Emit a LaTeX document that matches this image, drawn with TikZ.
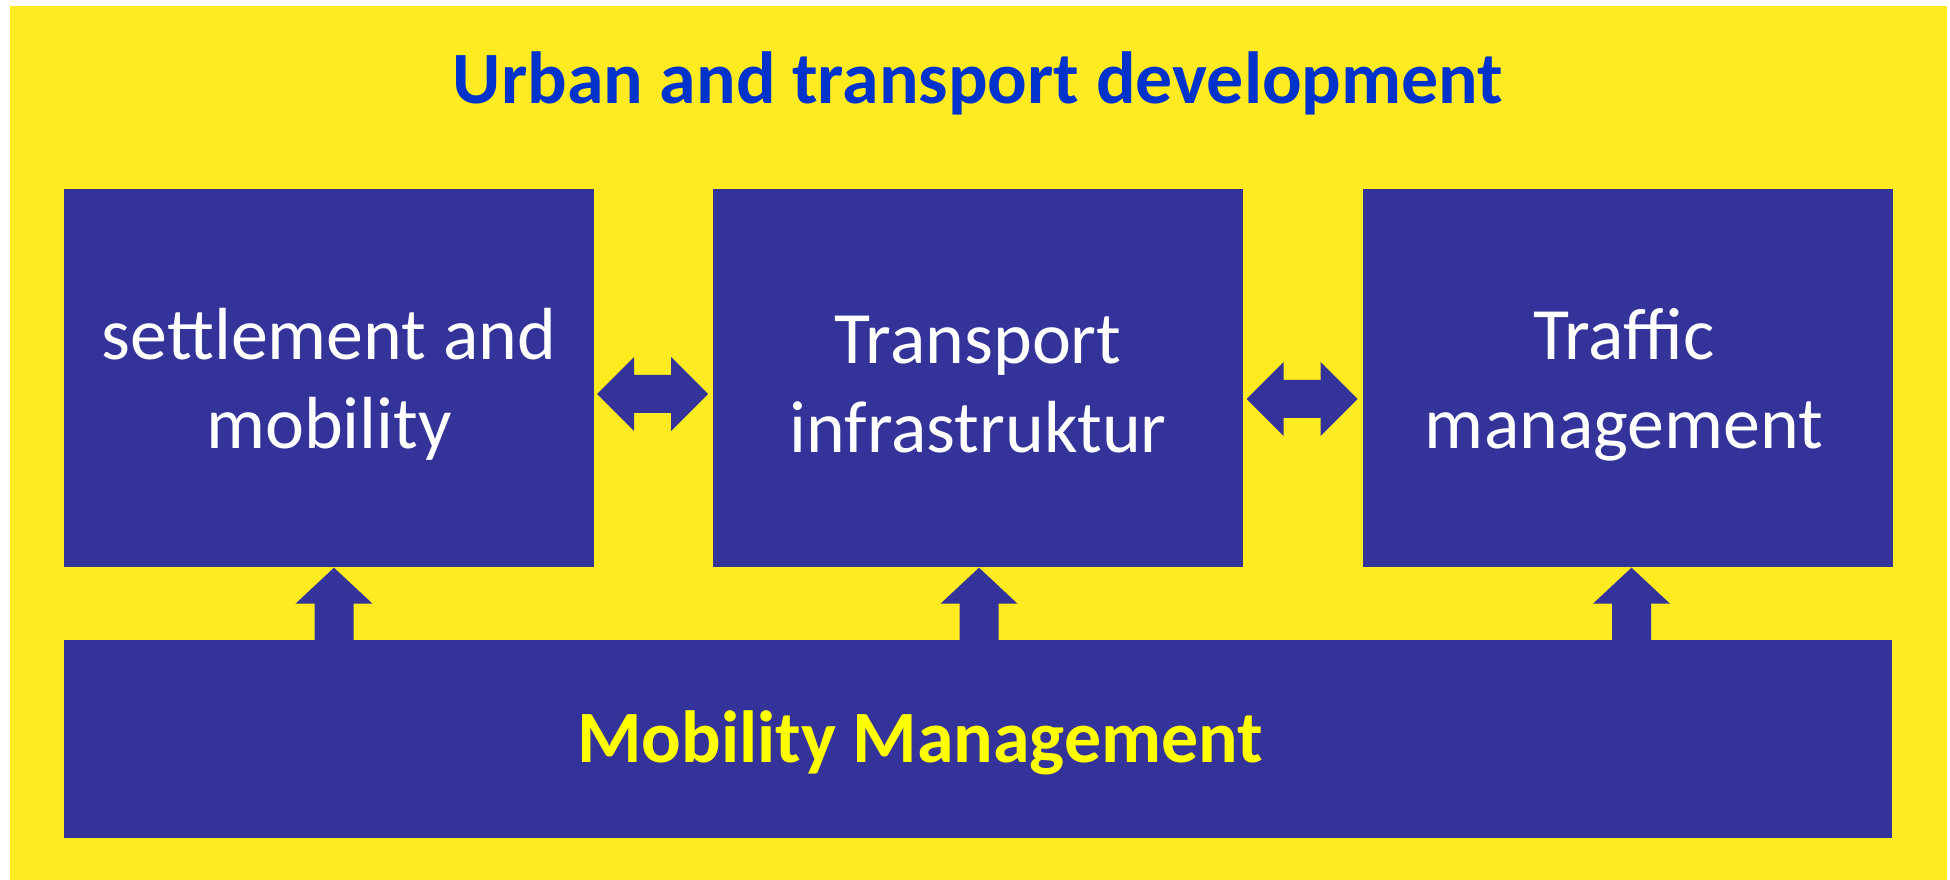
\documentclass[tikz,border=0pt]{standalone}
\usepackage{fontspec}
\setmainfont{Carlito}
\newlength{\du}
\setlength{\du}{0.01cm}
\definecolor{boxblue}{rgb}{0.200000, 0.200000, 0.600000}
\definecolor{headblue}{rgb}{0.000000, 0.200000, 0.800000}
\definecolor{backyellow}{rgb}{1.000000, 0.921569, 0.125490}
\definecolor{textyellow}{rgb}{1.000000, 1.000000, 0.000000}
\tikzset{
  boxnode/.style={rectangle, fill=boxblue, inner sep=0pt, minimum width=530\du,
    minimum height=378\du},
  boxtext/.style={inner sep=0pt, align=center, text=white,
    font={\fontsize{21}{25.3}\selectfont}},
  headtext/.style={anchor=base, inner sep=0pt, font={\fontsize{21}{25.3}\selectfont\bfseries}},
  blockarrow/.style={fill=boxblue}
}

\begin{document}
\begin{tikzpicture}
\pgftransformxscale{1.000000}
\pgftransformyscale{-1.000000}
\useasboundingbox (0\du,0\du) rectangle (1950\du,880\du);
\definecolor{dialinecolor}{rgb}{1.000000, 0.921569, 0.125490}
\pgfsetfillcolor{dialinecolor}
\fill (10\du,6\du)--(10\du,880\du)--(1947\du,880\du)--(1947\du,6\du)--cycle;
% setfont title
\node[headtext, text=headblue] (title) at (978\du,104\du){Urban and transport development};
\node[boxnode] (set) at (329\du,378\du){};
\node[boxtext] (settext) at (329\du,384.5\du){settlement and\\mobility};
\node[boxnode] (infra) at (978\du,378\du){};
\node[boxtext] (infratext) at (978\du,384.5\du){Transport\\infrastruktur};
\node[boxnode] (traffic) at (1627.5\du,378\du){};
\node[boxtext] (traffictext) at (1624\du,384.5\du){Traffic\\management};
\node[boxnode, minimum width=1828\du, minimum height=198\du] (mob) at (978\du,739\du){};
% setfont bottom
\node[headtext, text=textyellow] (mobtext) at (920\du,763\du){Mobility Management};
% double arrows
\fill[blockarrow] (set.east) ++(2.5\du,16\du) -- ++(37\du,-37\du) -- ++(0,18\du) -- ++(37\du,0) -- ++(0,-18\du) -- ++(37\du,37\du) -- ++(-37\du,37\du) -- ++(0,-18\du) -- ++(-37\du,0) -- ++(0,18\du) -- cycle;
\fill[blockarrow] (infra.east) ++(3\du,21\du) -- ++(37\du,-37\du) -- ++(0,18\du) -- ++(37\du,0) -- ++(0,-18\du) -- ++(37\du,37\du) -- ++(-37\du,37\du) -- ++(0,-18\du) -- ++(-37\du,0) -- ++(0,18\du) -- cycle;
% up arrows
\fill[blockarrow] (set.south) ++(5\du,0) -- ++(38.5\du,36\du) -- ++(-19\du,0) -- ++(0,37\du) -- ++(-39\du,0) -- ++(0,-37\du) -- ++(-19\du,0) -- cycle;
\fill[blockarrow] (infra.south) ++(1\du,0) -- ++(38.5\du,36\du) -- ++(-19\du,0) -- ++(0,37\du) -- ++(-39\du,0) -- ++(0,-37\du) -- ++(-19\du,0) -- cycle;
\fill[blockarrow] (traffic.south) ++(4\du,0) -- ++(38.5\du,36\du) -- ++(-19\du,0) -- ++(0,37\du) -- ++(-39\du,0) -- ++(0,-37\du) -- ++(-19\du,0) -- cycle;
\end{tikzpicture}
\end{document}
